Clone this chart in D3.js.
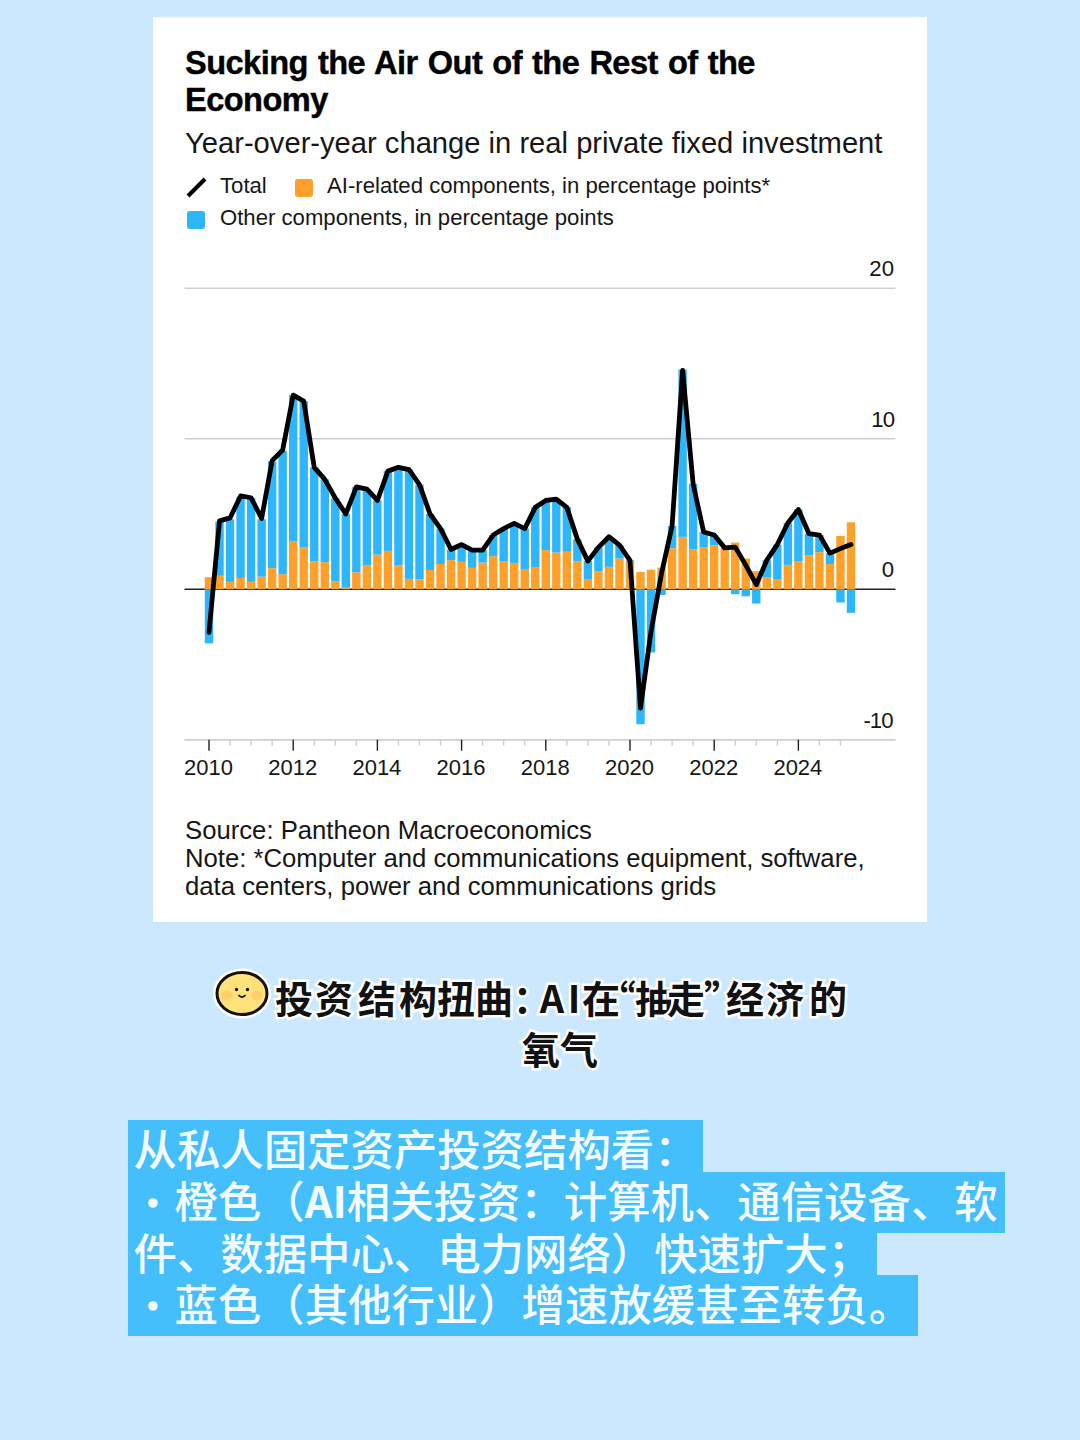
<!DOCTYPE html>
<html>
<head>
<meta charset="utf-8">
<script src="https://cdn.jsdelivr.net/npm/d3@7"></script>
<style>
  html, body { margin: 0; padding: 0; background: #cce8ff; }
  svg { display: block; }
  text { font-family: "Liberation Sans", Arial, sans-serif; fill: #161616; }
  .cjk { font-family: "Noto Sans CJK SC", sans-serif; }
</style>
</head>
<body>
<svg id="page" width="1080" height="1440"></svg>
<script>
// quarters, 2010 Q1 to 2025 Q2
var quarters = d3.range(62).map(function (i) { return 2010 + i / 4; });

var aiRelated = [0.8, 0.89, 0.49, 0.75, 0.49, 0.84, 1.4, 1.0, 3.2, 2.8, 1.86, 1.8, 0.53, 0.1,
  1.13, 1.6, 2.3, 2.55, 1.57, 0.69, 0.66, 1.28, 1.68, 1.93, 1.82, 1.42, 1.77, 2.2, 1.84, 1.75,
  1.3, 1.44, 2.6, 2.44, 2.49, 1.84, 0.64, 1.2, 1.49, 2.04, 1.82, 1.15, 1.3, 1.44, 2.73, 3.48,
  2.64, 2.77, 2.92, 2.75, 3.1, 2.04, 1.2, 0.78, 0.64, 1.62, 1.84, 2.24, 2.46, 1.68, 3.54, 4.45];

var otherComponents = [-3.6, 3.61, 4.16, 5.4, 5.56, 3.81, 7.1, 8.2, 9.7, 9.7, 6.24, 5.5, 5.52, 4.9,
  5.67, 5.05, 3.6, 5.3, 6.53, 7.26, 6.29, 3.72, 2.35, 0.71, 1.15, 1.18, 0.83, 1.4, 2.19, 2.63,
  2.73, 4.0, 3.3, 3.54, 2.95, 1.49, 1.23, 1.58, 2.0, 0.89, 0.1, -8.97, -4.2, -0.38, 1.47, 11.12,
  4.36, 1.03, 0.68, 0, -0.33, -0.47, -0.95, 1.15, 2.33, 2.78, 3.46, 1.46, 1.14, 0.72, -0.88, -1.57];

var total = [-2.86, 4.54, 4.74, 6.2, 6.08, 4.7, 8.55, 9.25, 12.9, 12.5, 8.1, 7.3, 6.05, 5.0,
  6.8, 6.65, 5.9, 7.85, 8.1, 7.95, 6.95, 5.0, 4.03, 2.64, 2.97, 2.6, 2.6, 3.6, 4.03, 4.38,
  4.03, 5.44, 5.9, 5.98, 5.44, 3.33, 1.87, 2.78, 3.49, 2.93, 1.92, -7.9, -2.8, 1.06, 4.2, 14.55,
  7.0, 3.8, 3.6, 2.75, 2.8, 1.6, 0.3, 1.93, 2.97, 4.4, 5.3, 3.7, 3.6, 2.4, 2.7, 2.97];

var yTicks = [20, 10, 0, -10];
var yearLabels = [2010, 2012, 2014, 2016, 2018, 2020, 2022, 2024];
var halfYears = d3.range(2010, 2025.5, 0.5);

var titleLines = ["Sucking the Air Out of the Rest of the", "Economy"];
var subtitle = "Year-over-year change in real private fixed investment";
var sourceLines = ["Source: Pantheon Macroeconomics",
  "Note: *Computer and communications equipment, software,",
  "data centers, power and communications grids"];

// full width punctuation written as escapes: \uFF08 \uFF09 brackets, \uFF1A colon, \uFF1B semicolon
var headingLine1 = "投资结构扭曲\uFF1AAI在\u201C抽走\u201D经济的";
var headingCharX = [294, 334, 377, 418, 456, 494, 532, 552, 574, 601, 617, 654, 686, 723, 745, 785, 828];
var headingLine2 = "氧气";
var bodyLines = ["从私人固定资产投资结构看\uFF1A",
  "橙色\uFF08AI相关投资\uFF1A计算机、通信设备、软",
  "件、数据中心、电力网络\uFF09快速扩大\uFF1B",
  "蓝色\uFF08其他行业\uFF09增速放缓甚至转负。"];

var orange = "#ffa02b", blue = "#2db6fb", grey = "#cfcfcf";

var svg = d3.select("#page");

svg.append("rect").attr("x", 153).attr("y", 17).attr("width", 774).attr("height", 905).attr("fill", "#fff");

// heading block of the chart
var title = svg.append("text")
  .attr("font-size", 32.6).attr("font-weight", 700)
  .style("fill", "#000")
  .style("stroke", "#000").style("stroke-width", 0.4)
  .style("letter-spacing", "-0.55px").style("word-spacing", "1.6px");
title.selectAll("tspan").data(titleLines).enter().append("tspan")
  .attr("x", 185).attr("y", function (d, i) { return 74 + i * 37; })
  .text(function (d) { return d; });

svg.append("text").attr("x", 185).attr("y", 153)
  .attr("font-size", 29.17).text(subtitle);

// legend
var legend = svg.append("g").attr("font-size", 22.15);
legend.append("line").attr("x1", 188).attr("y1", 196).attr("x2", 205).attr("y2", 179)
  .attr("stroke", "#000").attr("stroke-width", 4);
legend.append("text").attr("x", 220).attr("y", 193).text("Total");
legend.append("rect").attr("x", 295).attr("y", 179).attr("width", 18).attr("height", 18).attr("rx", 3).attr("fill", orange);
legend.append("text").attr("x", 327).attr("y", 193).text("AI-related components, in percentage points*");
legend.append("rect").attr("x", 187).attr("y", 211).attr("width", 18).attr("height", 18).attr("rx", 3).attr("fill", blue);
legend.append("text").attr("x", 220).attr("y", 225).text("Other components, in percentage points");

// scales
var x = d3.scaleLinear().domain([2010, 2025.25]).range([209, 851]);
var y = d3.scaleLinear().domain([-10, 20]).range([739.7, 288.3]);
var barWidth = 8.4;

// gridlines and value labels
var yAxis = svg.append("g").attr("transform", "translate(895.5,0)")
  .call(d3.axisLeft(y).tickValues(yTicks).tickSize(711).tickFormat("").offset(0));
yAxis.select(".domain").remove();
yAxis.selectAll("line").attr("stroke", function (d) { return d === 0 ? "#222" : grey; })
  .attr("stroke-width", 1.6);

svg.selectAll(".ylab").data(yTicks).enter().append("text")
  .attr("class", "ylab")
  .attr("x", function (d) { return d === -10 ? 892.5 : 894; })
  .attr("y", function (d) { return y(d) - 12; })
  .attr("text-anchor", "end").attr("font-size", 22.2)
  .style("letter-spacing", function (d) { return Math.abs(d) === 10 ? "-1px" : "0"; })
  .text(function (d) { return d; });

// stacked bars
svg.append("g").selectAll("rect").data(quarters).enter().append("rect")
  .attr("x", function (d) { return x(d) - barWidth / 2; })
  .attr("width", barWidth)
  .attr("y", function (d, i) { return y(aiRelated[i]); })
  .attr("height", function (d, i) { return y(0) - y(aiRelated[i]); })
  .attr("fill", orange);

svg.append("g").selectAll("rect").data(quarters).enter().append("rect")
  .attr("x", function (d) { return x(d) - barWidth / 2; })
  .attr("width", barWidth)
  .attr("y", function (d, i) {
    var v = otherComponents[i];
    return v >= 0 ? y(aiRelated[i] + v) : y(0);
  })
  .attr("height", function (d, i) { return Math.abs(y(0) - y(otherComponents[i])); })
  .attr("fill", blue);

// total line
var line = d3.line()
  .x(function (d) { return x(d); })
  .y(function (d, i) { return y(total[i]); });
svg.append("path").datum(quarters).attr("d", line)
  .attr("fill", "none").attr("stroke", "#000").attr("stroke-width", 4.8)
  .attr("stroke-linejoin", "round").attr("stroke-linecap", "round");

// time axis
var xAxis = svg.append("g").attr("transform", "translate(0,739.7)");
xAxis.append("line").attr("x1", 184.5).attr("x2", 895.5).attr("stroke", grey).attr("stroke-width", 1.6);
xAxis.selectAll(".minor").data(halfYears).enter().append("line")
  .attr("class", "minor")
  .attr("x1", function (d) { return x(d); }).attr("x2", function (d) { return x(d); })
  .attr("y1", 0)
  .attr("y2", function (d) { return yearLabels.indexOf(d) >= 0 ? 11 : 6; })
  .attr("stroke", function (d) { return yearLabels.indexOf(d) >= 0 ? "#222" : grey; })
  .attr("stroke-width", 1.4);
xAxis.selectAll(".yr").data(yearLabels).enter().append("text")
  .attr("class", "yr")
  .attr("x", function (d) { return x(d) - 0.5; }).attr("y", 35)
  .attr("text-anchor", "middle").attr("font-size", 22)
  .text(function (d) { return d; });

// source and note
var source = svg.append("text").attr("font-size", 25.7);
source.selectAll("tspan").data(sourceLines).enter().append("tspan")
  .attr("x", 185).attr("y", function (d, i) { return 839 + i * 28; })
  .text(function (d) { return d; });

// smiley next to the heading
var face = svg.append("g").attr("transform", "translate(242,993.5)");
face.append("ellipse").attr("rx", 25.5).attr("ry", 21.5)
  .attr("fill", "#ffe27a").attr("stroke", "#fff").attr("stroke-width", 7);
face.append("ellipse").attr("rx", 25).attr("ry", 21)
  .attr("fill", "#ffe27a").attr("stroke", "#111").attr("stroke-width", 3);
face.append("ellipse").attr("cx", -15).attr("cy", 2).attr("rx", 6).attr("ry", 5).attr("fill", "#ffcf6e");
face.append("ellipse").attr("cx", 15).attr("cy", 2).attr("rx", 6).attr("ry", 5).attr("fill", "#ffcf6e");
face.append("circle").attr("cx", -5.5).attr("cy", -4).attr("r", 1.7).attr("fill", "#111");
face.append("circle").attr("cx", 5.5).attr("cy", -4).attr("r", 1.7).attr("fill", "#111");
face.append("path").attr("d", "M-3.5,1.5 Q0,5.5 3.5,1.5").attr("fill", "none").attr("stroke", "#111").attr("stroke-width", 1.8);

// handwritten style heading, glyph spacing follows the reference
var headingStyle = function (sel) {
  sel.attr("class", "cjk").attr("font-size", 38).attr("font-weight", 700)
    .attr("text-anchor", "middle")
    .style("fill", "#111")
    .style("stroke", "#fff").style("stroke-width", 5).style("paint-order", "stroke");
};
svg.append("text").call(headingStyle)
  .attr("x", headingCharX.join(" ")).attr("y", 1013).text(headingLine1);
svg.append("text").call(headingStyle)
  .attr("x", 560).attr("y", 1064).text(headingLine2);

// highlighted body text
var bodyBlue = "#45bffb";
var bodyRows = [[128, 1120, 575, 52], [128, 1172, 877, 61], [128, 1233, 749, 42], [128, 1275, 790, 61]];
svg.selectAll(".hl").data(bodyRows).enter().append("rect")
  .attr("class", "hl")
  .attr("x", function (d) { return d[0]; }).attr("y", function (d) { return d[1]; })
  .attr("width", function (d) { return d[2]; }).attr("height", function (d) { return d[3]; })
  .attr("fill", bodyBlue);

var bodyX = [133.5, 174.5, 133.5, 174.5];
var bodyY = [1166, 1218, 1270, 1321];
var body = svg.append("text").attr("class", "cjk")
  .attr("font-size", 43.4).attr("font-weight", 500)
  .style("fill", "#f4fbff");
body.selectAll("tspan").data(bodyLines).enter().append("tspan")
  .attr("x", function (d, i) { return bodyX[i]; })
  .attr("y", function (d, i) { return bodyY[i]; })
  .each(function (d) {
    var row = d3.select(this);
    // the latin AI is set bold in the reference
    d.split(/(AI)/).forEach(function (part) {
      row.append("tspan").attr("font-weight", part === "AI" ? 700 : 500).text(part);
    });
  });

[1218, 1321].forEach(function (by) {
  svg.append("circle").attr("cx", 153).attr("cy", by - 15).attr("r", 4.8).attr("fill", "#f4fbff");
});
</script>
</body>
</html>
